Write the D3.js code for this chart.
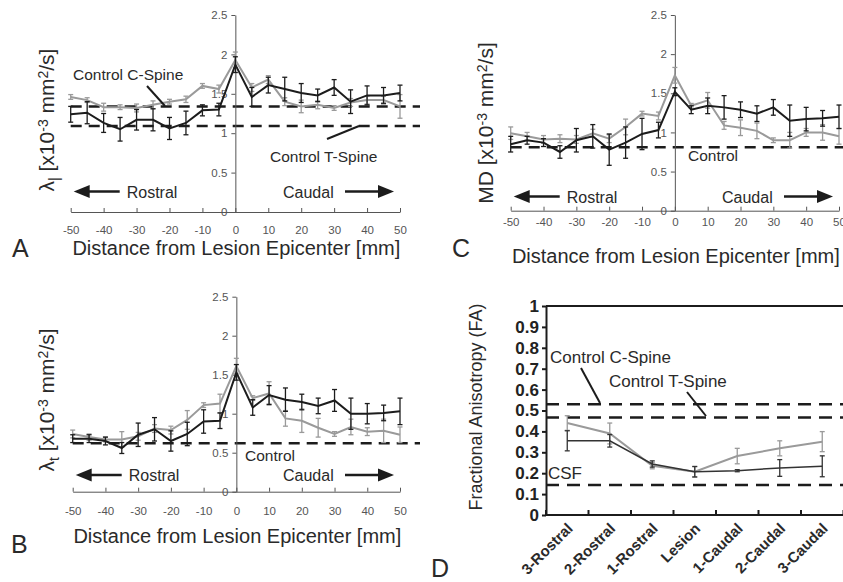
<!doctype html>
<html>
  <head>
    <meta charset="utf-8">
    <title>DTI along the cord</title>
    <script src="https://cdnjs.cloudflare.com/ajax/libs/d3/7.8.5/d3.min.js"></script>
    <style>
      body { margin: 0; background: #fff; }
      svg { font-family: "Liberation Sans", Arial, sans-serif; }
      .tick text { fill: #555; }
      .fa .tick text { fill: #222; }
    </style>
  </head>
  <body>
    <div id="fig"></div>
    <script>

      // distance from lesion epicenter (mm)
      const distance = [-50, -45, -40, -35, -30, -25, -20, -15, -10, -5, 0, 5, 10, 15, 20, 25, 30, 35, 40, 45, 50];
      const distTicks = [-50, -40, -30, -20, -10, 0, 10, 20, 30, 40, 50];
      const diffTicks = [0, 0.5, 1, 1.5, 2, 2.5];

      // A: axial diffusivity
      const aGray      = [1.46, 1.42, 1.33, 1.33, 1.32, 1.36, 1.40, 1.43, 1.60, 1.56, 1.93, 1.58, 1.68, 1.40, 1.34, 1.36, 1.32, 1.39, 1.42, 1.42, 1.34];
      const aGrayErr   = [0.03, 0.03, 0.05, 0.03, 0.05, 0.05, 0.03, 0.04, 0.03, 0.05, 0.10, 0.05, 0.05, 0.05, 0.08, 0.05, 0.03, 0.05, 0.05, 0.05, 0.15];
      const aBlack     = [1.24, 1.26, 1.13, 1.05, 1.17, 1.17, 1.06, 1.13, 1.29, 1.30, 1.87, 1.46, 1.61, 1.56, 1.51, 1.48, 1.58, 1.40, 1.48, 1.48, 1.51];
      const aBlackErr  = [0.10, 0.14, 0.12, 0.15, 0.13, 0.14, 0.14, 0.15, 0.07, 0.08, 0.10, 0.12, 0.10, 0.15, 0.12, 0.08, 0.10, 0.15, 0.12, 0.10, 0.10];
      const aControl   = [1.34, 1.09];

      // B: transverse diffusivity
      const bGray      = [0.74, 0.70, 0.67, 0.67, 0.71, 0.81, 0.79, 0.92, 1.11, 1.13, 1.61, 1.20, 1.26, 0.94, 0.91, 0.82, 0.74, 0.83, 0.77, 0.78, 0.73];
      const bGrayErr   = [0.05, 0.04, 0.03, 0.10, 0.05, 0.05, 0.05, 0.12, 0.03, 0.12, 0.10, 0.03, 0.15, 0.10, 0.15, 0.12, 0.03, 0.10, 0.05, 0.15, 0.10];
      const bBlack     = [0.68, 0.68, 0.65, 0.56, 0.73, 0.80, 0.65, 0.74, 0.90, 0.91, 1.53, 1.08, 1.24, 1.18, 1.15, 1.10, 1.17, 1.00, 1.00, 1.01, 1.03];
      const bBlackErr  = [0.05, 0.05, 0.05, 0.07, 0.15, 0.15, 0.13, 0.15, 0.15, 0.10, 0.10, 0.10, 0.12, 0.15, 0.10, 0.10, 0.14, 0.20, 0.13, 0.10, 0.17];
      const bControl   = [0.62];

      // C: mean diffusivity
      const cGray      = [0.99, 0.95, 0.91, 0.92, 0.91, 0.99, 0.92, 1.07, 1.24, 1.21, 1.73, 1.34, 1.41, 1.09, 1.06, 1.02, 0.90, 0.90, 1.00, 1.00, 0.95];
      const cGrayErr   = [0.08, 0.05, 0.05, 0.05, 0.05, 0.05, 0.05, 0.10, 0.03, 0.05, 0.10, 0.03, 0.10, 0.05, 0.10, 0.10, 0.03, 0.10, 0.05, 0.10, 0.10];
      const cBlack     = [0.85, 0.90, 0.87, 0.75, 0.90, 0.95, 0.78, 0.87, 0.98, 1.03, 1.52, 1.29, 1.34, 1.32, 1.29, 1.24, 1.32, 1.15, 1.17, 1.18, 1.20];
      const cBlackErr  = [0.10, 0.05, 0.05, 0.08, 0.15, 0.15, 0.20, 0.20, 0.20, 0.10, 0.05, 0.05, 0.10, 0.15, 0.10, 0.10, 0.10, 0.20, 0.15, 0.10, 0.15];
      const cControl   = [0.81];

      // D: fractional anisotropy by segment
      const segments   = ['3-Rostral', '2-Rostral', '1-Rostral', 'Lesion', '1-Caudal', '2-Caudal', '3-Caudal'];
      const faTicks    = [0, 0.1, 0.2, 0.3, 0.4, 0.5, 0.6, 0.7, 0.8, 0.9, 1];
      const dGray      = [0.44, 0.39, 0.236, 0.207, 0.282, 0.319, 0.351];
      const dGrayErr   = [0.035, 0.05, 0.015, 0.025, 0.037, 0.036, 0.048];
      const dBlack     = [0.355, 0.355, 0.244, 0.207, 0.212, 0.225, 0.233];
      const dBlackErr  = [0.048, 0.03, 0.015, 0.025, 0.005, 0.04, 0.05];
      const dControl   = [0.53, 0.467, 0.144];

      const GRAY = '#9a9a9a', BLACK = '#1c1c1c', TEXT = '#2a2a2a';

      const svg = d3.select('#fig').append('svg')
        .attr('width', 843).attr('height', 582);

      // arrow helper, head drawn at xTip
      function arrow(g, xTail, xTip, y) {
        const dir = xTip > xTail ? 1 : -1;
        g.append('line').attr('x1', xTail).attr('x2', xTip - dir * 12).attr('y1', y).attr('y2', y)
          .attr('stroke', BLACK).attr('stroke-width', 2.5);
        g.append('path')
          .attr('d', `M${xTip},${y} L${xTip - dir * 16},${y - 6.5} L${xTip - dir * 16},${y + 6.5} Z`)
          .attr('fill', BLACK);
      }

      function seriesWithErr(g, x, y, xs, vals, errs, color, width) {
        const line = d3.line().x((d, i) => x(xs[i])).y(d => y(d));
        g.append('path').datum(vals).attr('d', line)
          .attr('fill', 'none').attr('stroke', color).attr('stroke-width', width);
        const eb = g.append('g').attr('stroke', color).attr('stroke-width', 1.3);
        vals.forEach((v, i) => {
          const cx = x(xs[i]);
          eb.append('line').attr('x1', cx).attr('x2', cx).attr('y1', y(v - errs[i])).attr('y2', y(v + errs[i]));
          eb.append('line').attr('x1', cx - 2.5).attr('x2', cx + 2.5).attr('y1', y(v - errs[i])).attr('y2', y(v - errs[i]));
          eb.append('line').attr('x1', cx - 2.5).attr('x2', cx + 2.5).attr('y1', y(v + errs[i])).attr('y2', y(v + errs[i]));
        });
      }

      function lineLabel(g, txt, x, y) {
        g.append('text').attr('x', x).attr('y', y).attr('font-size', 15.5).attr('fill', TEXT).text(txt);
      }
      function pointer(g, x1, y1, x2, y2) {
        g.append('line').attr('x1', x1).attr('y1', y1).attr('x2', x2).attr('y2', y2)
          .attr('stroke', BLACK).attr('stroke-width', 2);
      }

      // panels A, B, C share one layout
      function diffPanel(p) {
        const g = svg.append('g');
        const x = d3.scaleLinear().domain([-50, 50]).range(p.xr);
        const y = d3.scaleLinear().domain([0, 2.5]).range(p.yr);

        // control dashed lines
        p.control.forEach(c => {
          g.append('line').attr('x1', x(-50)).attr('x2', p.dashEnd).attr('y1', y(c)).attr('y2', y(c))
            .attr('stroke', BLACK).attr('stroke-width', 2.5).attr('stroke-dasharray', '11,7');
        });

        // x axis (plain hyphen minus like the original)
        const xa = g.append('g').attr('transform', `translate(0,${y(0)})`)
          .call(d3.axisBottom(x).tickValues(distTicks).tickFormat(d => String(d))
            .tickSizeInner(-4).tickSizeOuter(0).tickPadding(p.pad));
        xa.selectAll('text').attr('font-size', 11.5);
        xa.selectAll('line, path').attr('stroke', '#555');
        // y axis at x = 0
        const ya = g.append('g').attr('transform', `translate(${x(0)},0)`)
          .call(d3.axisLeft(y).tickValues(diffTicks).tickFormat(d => String(d))
            .tickSize(4).tickSizeOuter(0).tickPadding(4));
        ya.selectAll('text').attr('font-size', 11.5);
        ya.selectAll('line, path').attr('stroke', '#555');

        seriesWithErr(g, x, y, distance, p.gray, p.grayErr, GRAY, 2);
        seriesWithErr(g, x, y, distance, p.black, p.blackErr, BLACK, 2);

        // rostral / caudal
        const ay = p.arrowY;
        arrow(g, x(-50) + 49, x(-50) + 3, ay);
        g.append('text').attr('x', x(-50) + 56).attr('y', ay + 6).attr('font-size', 16).attr('fill', TEXT).text('Rostral');
        g.append('text').attr('x', x(50) - 117).attr('y', ay + 6).attr('font-size', 16).attr('fill', TEXT).text('Caudal');
        arrow(g, x(50) - 55, x(50) - 6, ay);

        // titles
        g.append('text').attr('x', (p.xr[0] + p.xr[1]) / 2 + 1).attr('y', p.titleY)
          .attr('text-anchor', 'middle').attr('font-size', 20).attr('fill', TEXT)
          .text('Distance from Lesion Epicenter [mm]');
        const yl = g.append('text').attr('transform', `translate(${p.ylabX},${p.ylabY}) rotate(-90)`)
          .attr('text-anchor', 'middle').attr('font-size', 21).attr('fill', TEXT);
        p.ylab.forEach(s => {
          const t = yl.append('tspan').text(s[0]);
          if (s[1] === 'sup') t.attr('font-size', 14).attr('baseline-shift', '45%');
          if (s[1] === 'sub') t.attr('font-size', 14).attr('baseline-shift', '-35%');
        });
        g.append('text').attr('x', p.letter[0]).attr('y', p.letter[1]).attr('font-size', 25).attr('fill', TEXT).text(p.name);
        return { g, x, y };
      }

      const A = diffPanel({
        name: 'A', xr: [70.7, 400], yr: [212, 15], dashEnd: 420, pad: 14,
        gray: aGray, grayErr: aGrayErr, black: aBlack, blackErr: aBlackErr, control: aControl,
        arrowY: 191.5, titleY: 255, ylabX: 54, ylabY: 120, letter: [12, 257],
        ylab: [['\u03bb'], ['|', 'sub'], [' [x10'], ['-3', 'sup'], [' mm'], ['2', 'sup'], ['/s]']]
      });
      lineLabel(A.g, 'Control C-Spine', 73, 80);
      pointer(A.g, 147, 86, 165, 106);
      lineLabel(A.g, 'Control T-Spine', 270, 162);
      pointer(A.g, 327, 139, 359, 126);

      const B = diffPanel({
        name: 'B', xr: [72.7, 400], yr: [491.7, 296.7], dashEnd: 420, pad: 15,
        gray: bGray, grayErr: bGrayErr, black: bBlack, blackErr: bBlackErr, control: bControl,
        arrowY: 475, titleY: 543, ylabX: 54, ylabY: 400, letter: [11, 553],
        ylab: [['\u03bb'], ['t', 'sub'], [' [x10'], ['-3', 'sup'], [' mm'], ['2', 'sup'], ['/s]']]
      });
      lineLabel(B.g, 'Control', 245, 461);

      const C = diffPanel({
        name: 'C', xr: [510.7, 839], yr: [210.7, 15], dashEnd: 843, pad: 7,
        gray: cGray, grayErr: cGrayErr, black: cBlack, blackErr: cBlackErr, control: cControl,
        arrowY: 196.5, titleY: 263, ylabX: 493, ylabY: 123, letter: [452, 257],
        ylab: [['MD [x10'], ['-3', 'sup'], [' mm'], ['2', 'sup'], ['/s]']]
      });
      lineLabel(C.g, 'Control', 688, 161);

      // panel D
      const dg = svg.append('g');
      const dx = d3.scaleBand().domain(segments).range([546, 843.5]);
      const dy = d3.scaleLinear().domain([0, 1]).range([515, 306]);
      const cx = s => dx(s) + dx.bandwidth() / 2;

      dControl.forEach(c => {
        dg.append('line').attr('x1', 546).attr('x2', 843).attr('y1', dy(c)).attr('y2', dy(c))
          .attr('stroke', BLACK).attr('stroke-width', 2.5).attr('stroke-dasharray', '13,8');
      });
      dg.append('line').attr('x1', 546).attr('x2', 843).attr('y1', dy(1)).attr('y2', dy(1))
        .attr('stroke', BLACK).attr('stroke-width', 2);

      const dya = dg.append('g').attr('class', 'fa').attr('transform', 'translate(546,0)')
        .call(d3.axisLeft(dy).tickValues(faTicks).tickSize(4).tickSizeOuter(0).tickPadding(3)
          .tickFormat(d => (d === 0 || d === 1) ? String(d) : d.toFixed(1)));
      dya.selectAll('text').attr('font-size', 17).attr('font-weight', 'bold');
      dya.selectAll('line, path').attr('stroke', BLACK).attr('stroke-width', 2);

      // bottom axis with ticks at segment boundaries
      const bounds = segments.map(s => dx(s)).concat([dx(segments[segments.length - 1]) + dx.step()]);
      dg.append('line').attr('x1', 546).attr('x2', 843).attr('y1', dy(0)).attr('y2', dy(0))
        .attr('stroke', BLACK).attr('stroke-width', 2);
      dg.selectAll('.btick').data(bounds).join('line')
        .attr('x1', d => d).attr('x2', d => d).attr('y1', dy(0)).attr('y2', dy(0) - 5)
        .attr('stroke', BLACK).attr('stroke-width', 2);
      dg.selectAll('.cat').data(segments).join('text')
        .attr('transform', d => `translate(${cx(d) - 1},${dy(0) + 7}) rotate(-45)`)
        .attr('text-anchor', 'end').attr('dy', '0.7em')
        .attr('font-size', 15).attr('font-weight', 'bold').attr('fill', TEXT).text(d => d);

      const dxc = s => cx(s);
      seriesWithErr(dg, dxc, dy, segments, dGray, dGrayErr, GRAY, 2);
      seriesWithErr(dg, dxc, dy, segments, dBlack, dBlackErr, '#333', 1.5);

      dg.append('text').attr('x', 550).attr('y', 363).attr('font-size', 17).attr('fill', TEXT).text('Control C-Spine');
      pointer(dg, 581, 368, 600, 403);
      dg.append('text').attr('x', 609).attr('y', 387).attr('font-size', 17).attr('fill', TEXT).text('Control T-Spine');
      pointer(dg, 687, 392, 706, 416);
      dg.append('text').attr('x', 548).attr('y', 479).attr('font-size', 17).attr('fill', TEXT).text('CSF');

      dg.append('text').attr('transform', 'translate(482,407) rotate(-90)')
        .attr('text-anchor', 'middle').attr('font-size', 18).attr('fill', TEXT).text('Fractional Anisotropy (FA)');
      dg.append('text').attr('x', 431).attr('y', 577).attr('font-size', 25).attr('fill', TEXT).text('D');

    </script>
  </body>
</html>
